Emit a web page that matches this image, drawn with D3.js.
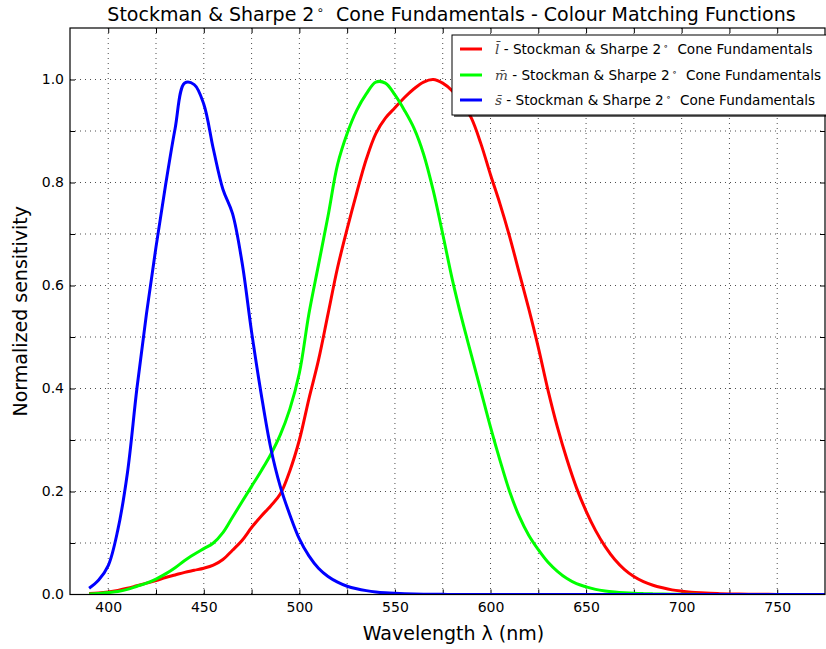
<!DOCTYPE html>
<html>
<head>
<meta charset="utf-8">
<script src="https://cdn.jsdelivr.net/npm/d3@7"></script>
<style>
  body { margin: 0; background: #fff; }
  text { font-family: "DejaVu Sans", sans-serif; }
</style>
</head>
<body>
<div id="chart"></div>
<script>
// wavelengths (nm) and normalised cone sensitivities
const wavelengths = [390, 395, 400, 405, 410, 415, 420, 425, 430, 435, 440, 445, 450, 455, 460, 465,
  470, 475, 480, 485, 490, 495, 500, 505, 510, 515, 520, 525, 530, 535, 540, 545, 550, 555, 560, 565,
  570, 575, 580, 585, 590, 595, 600, 605, 610, 615, 620, 625, 630, 635, 640, 645, 650, 655, 660, 665,
  670, 675, 680, 685, 690, 695, 700, 705, 710, 715, 720, 725, 730, 735, 740, 745, 750, 755, 760, 765,
  770, 775, 780];

const lValues = [0.002, 0.003, 0.005, 0.008, 0.012, 0.017, 0.022, 0.027, 0.033, 0.038, 0.043, 0.047,
  0.051, 0.057, 0.068, 0.086, 0.105, 0.13, 0.152, 0.172, 0.195, 0.24, 0.30, 0.38, 0.455, 0.545, 0.635,
  0.71, 0.78, 0.845, 0.895, 0.925, 0.945, 0.965, 0.982, 0.995, 1.0, 0.993, 0.978, 0.955, 0.925, 0.875,
  0.815, 0.758, 0.695, 0.625, 0.555, 0.48, 0.398, 0.325, 0.262, 0.207, 0.162, 0.124, 0.093, 0.068,
  0.049, 0.035, 0.025, 0.018, 0.013, 0.009, 0.0065, 0.0046, 0.0033, 0.0023, 0.0016, 0.0011, 0.0008,
  0.0006, 0.0004, 0.0003, 0.0002, 0.00015, 0.0001, 0.00007, 0.00005, 0.00004, 0.00003];

const mValues = [0.001, 0.002, 0.004, 0.006, 0.010, 0.016, 0.022, 0.030, 0.040, 0.052, 0.066, 0.078,
  0.089, 0.100, 0.120, 0.150, 0.180, 0.210, 0.240, 0.272, 0.310, 0.360, 0.430, 0.545, 0.64, 0.735,
  0.835, 0.895, 0.94, 0.972, 0.995, 0.993, 0.97, 0.94, 0.905, 0.855, 0.785, 0.70, 0.612, 0.535,
  0.465, 0.395, 0.325, 0.26, 0.2, 0.152, 0.115, 0.087, 0.063, 0.045, 0.031, 0.021, 0.015, 0.010,
  0.007, 0.005, 0.0035, 0.0024, 0.0017, 0.0012, 0.0008, 0.0006, 0.0004, 0.0003, 0.0002, 0.00015,
  0.0001, 0.00007, 0.00005, 0.00004, 0.00003, 0.00002, 0.00002, 0.00001, 0.00001, 0.00001, 0.00001,
  0.00001, 0.00001];

const sValues = [0.012, 0.028, 0.056, 0.125, 0.235, 0.40, 0.545, 0.675, 0.795, 0.905, 0.993, 0.99,
  0.952, 0.865, 0.787, 0.74, 0.645, 0.51, 0.39, 0.285, 0.21, 0.155, 0.108, 0.075, 0.051, 0.035, 0.024,
  0.016, 0.011, 0.0075, 0.005, 0.0034, 0.0023, 0.0015, 0.001, 0.0007, 0.0005, 0.0003, 0.0002, 0.00015,
  0.0001, 0.00007, 0.00005, 0.00003, 0.00002, 0.00001, 0, 0, 0, 0, 0, 0, 0, 0, 0, 0, 0, 0, 0, 0, 0,
  0, 0, 0, 0, 0, 0, 0, 0, 0, 0, 0, 0, 0, 0, 0, 0, 0, 0];

const seriesNames = ["l", "m", "s"];
const seriesColors = ["#ff0000", "#00ff00", "#0000ff"];
const xGridTicks = [400, 425, 450, 475, 500, 525, 550, 575, 600, 625, 650, 675, 700, 725, 750];
const xLabelTicks = [400, 450, 500, 550, 600, 650, 700, 750];
const yGridTicks = [0.1, 0.2, 0.3, 0.4, 0.5, 0.6, 0.7, 0.8, 0.9, 1.0];
const yLabelTicks = [0.0, 0.2, 0.4, 0.6, 0.8, 1.0];

const width = 826, height = 649;
const plotLeft = 70, plotRight = 825, plotTop = 28, plotBottom = 594.5;

const svg = d3.select("#chart").append("svg")
  .attr("width", width)
  .attr("height", height);

const x = d3.scaleLinear().domain([380, 775]).range([plotLeft, plotRight]);
const y = d3.scaleLinear().domain([0, 1.1]).range([plotBottom, plotTop]);

svg.append("clipPath").attr("id", "plotclip")
  .append("rect")
  .attr("x", plotLeft).attr("y", plotTop)
  .attr("width", plotRight - plotLeft).attr("height", plotBottom - plotTop);

// dotted grid
const grid = svg.append("g").attr("class", "grid");
grid.selectAll(".gx").data(xGridTicks).enter().append("line")
  .attr("x1", d => x(d)).attr("x2", d => x(d))
  .attr("y1", plotTop).attr("y2", plotBottom);
grid.selectAll(".gy").data(yGridTicks).enter().append("line")
  .attr("x1", plotLeft).attr("x2", plotRight)
  .attr("y1", d => y(d)).attr("y2", d => y(d));
grid.selectAll("line")
  .attr("stroke", "#222")
  .attr("stroke-width", 1)
  .attr("stroke-dasharray", "1,4")
  .attr("opacity", 0.8);

// inward tick marks on all four sides
svg.append("g").attr("transform", `translate(0,${plotBottom})`)
  .call(d3.axisBottom(x).tickValues(xGridTicks).tickSize(-5).tickFormat(""));
svg.append("g").attr("transform", `translate(0,${plotTop})`)
  .call(d3.axisTop(x).tickValues(xGridTicks).tickSize(-5).tickFormat(""));
svg.append("g").attr("transform", `translate(${plotLeft},0)`)
  .call(d3.axisLeft(y).tickValues(yGridTicks).tickSize(-5).tickFormat(""));
svg.append("g").attr("transform", `translate(${plotRight},0)`)
  .call(d3.axisRight(y).tickValues(yGridTicks).tickSize(-5).tickFormat(""));
svg.selectAll(".domain").remove();
svg.selectAll(".tick line").attr("stroke", "#000").attr("stroke-width", 1);

// tick labels
const xLab = svg.append("g").attr("transform", `translate(0,${plotBottom})`)
  .call(d3.axisBottom(x).tickValues(xLabelTicks).tickSize(0).tickPadding(8).tickFormat(d3.format("d")));
const yLab = svg.append("g").attr("transform", `translate(${plotLeft},0)`)
  .call(d3.axisLeft(y).tickValues(yLabelTicks).tickSize(0).tickPadding(6).tickFormat(d3.format(".1f")));
[xLab, yLab].forEach(g => {
  g.select(".domain").remove();
  g.selectAll("text").attr("font-size", 14).attr("fill", "#000")
    .style("font-family", "DejaVu Sans");
});

// curves
const columns = [lValues, mValues, sValues];
const line = d3.line()
  .x(d => x(d[0]))
  .y(d => y(d[1]))
  .curve(d3.curveCatmullRom.alpha(0.5));

const lines = svg.append("g").attr("clip-path", "url(#plotclip)");
columns.forEach((vals, i) => {
  lines.append("path")
    .datum(wavelengths.map((w, j) => [w, vals[j]]))
    .attr("fill", "none")
    .attr("stroke", seriesColors[i])
    .attr("stroke-width", 3)
    .attr("stroke-linejoin", "round")
    .attr("d", line);
});

// frame
svg.append("rect")
  .attr("x", plotLeft).attr("y", plotTop)
  .attr("width", plotRight - plotLeft).attr("height", plotBottom - plotTop)
  .attr("fill", "none").attr("stroke", "#000").attr("stroke-width", 1.2);

// title and axis labels
const title = svg.append("text")
  .attr("x", (plotLeft + plotRight) / 2 + 4).attr("y", 21)
  .attr("text-anchor", "middle").attr("font-size", 19)
  .style("white-space", "pre");
title.append("tspan").text("Stockman & Sharpe 2");
title.append("tspan").text("\u2218").attr("font-size", 12).attr("dy", -7).attr("dx", 2);
title.append("tspan").text("  Cone Fundamentals - Colour Matching Functions").attr("dy", 7);

svg.append("text")
  .attr("x", (plotLeft + plotRight) / 2 + 6).attr("y", 640)
  .attr("text-anchor", "middle").attr("font-size", 19)
  .text("Wavelength \u03bb (nm)");

svg.append("text")
  .attr("transform", `translate(27,${(plotTop + plotBottom) / 2}) rotate(-90)`)
  .attr("text-anchor", "middle").attr("font-size", 19)
  .text("Normalized sensitivity");

// legend
const legend = svg.append("g");
legend.append("rect")
  .attr("x", 454).attr("y", 37).attr("width", 380).attr("height", 80)
  .attr("fill", "#000").attr("opacity", 0.6);
legend.append("rect")
  .attr("x", 452).attr("y", 35).attr("width", 380).attr("height", 80)
  .attr("fill", "#fff").attr("stroke", "#000").attr("stroke-width", 1);

const rowY = [49, 75, 100];
seriesNames.forEach((name, i) => {
  legend.append("line")
    .attr("x1", 460).attr("x2", 482)
    .attr("y1", rowY[i]).attr("y2", rowY[i])
    .attr("stroke", seriesColors[i]).attr("stroke-width", 3);
  const t = legend.append("text")
    .attr("x", 495).attr("y", rowY[i] + 5)
    .attr("font-size", 13.6).attr("fill", "#000")
    .style("white-space", "pre");
  t.append("tspan").text(name + "\u0304")
    .style("font-family", "DejaVu Serif").style("font-style", "italic").attr("fill", "#444");
  t.append("tspan").text(" - Stockman & Sharpe 2");
  t.append("tspan").text("\u2218").attr("font-size", 9).attr("dy", -5).attr("dx", 2);
  t.append("tspan").text("  Cone Fundamentals").attr("dy", 5);
});
</script>
</body>
</html>
